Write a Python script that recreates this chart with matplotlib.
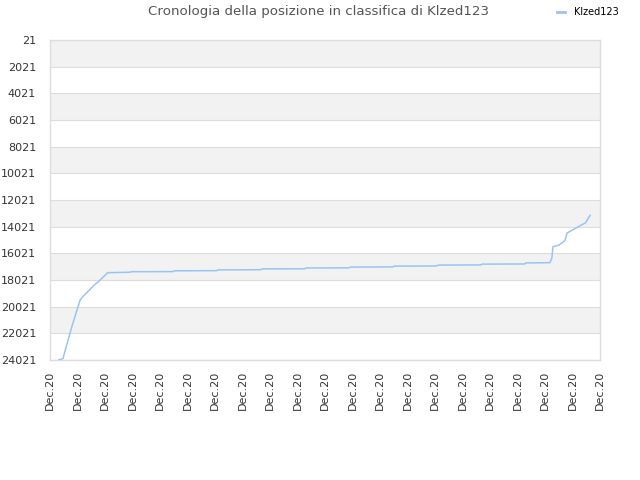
import matplotlib
matplotlib.use("Agg")
import matplotlib.pyplot as plt
from matplotlib.lines import Line2D

# Data (x in tick-interval units, 0..20; y = ranking position)
x_vals = [0.33, 0.47, 0.79, 1.09, 1.17, 1.64, 1.76, 2.10,
          2.91, 2.94, 4.48, 4.52, 6.06, 6.12, 7.66, 7.72,
          9.26, 9.32, 10.86, 10.92, 12.46, 12.52, 14.06, 14.12,
          15.66, 15.72, 17.26, 17.30, 17.85, 18.18, 18.25, 18.29,
          18.51, 18.72, 18.75, 18.80, 19.48, 19.55, 19.64]
y_vals = [24000, 23920, 21550, 19550, 19320, 18340, 18150, 17470,
          17440, 17400, 17390, 17330, 17320, 17260, 17250, 17190,
          17180, 17120, 17110, 17050, 17040, 16980, 16970, 16900,
          16890, 16830, 16820, 16740, 16730, 16720, 16370, 15520,
          15400, 15070, 14920, 14500, 13720, 13470, 13170]

y_ticks = [21, 2021, 4021, 6021, 8021, 10021, 12021, 14021, 16021,
           18021, 20021, 22021, 24021]
x_ticks = list(range(21))
x_labels = ["Dec.20"] * 21
series_name = "Klzed123"
title = "Cronologia della posizione in classifica di Klzed123"

fig = plt.figure(figsize=(6.4, 4.8), dpi=100)
ax = fig.add_axes([50/640, 120/480, 550/640, 320/480])

line_color = "#99c4f2"
grid_color = "#dddddd"

ax.set_xlim(0, 20)
ax.set_ylim(24021, 21)

# alternating bands
for i in range(len(y_ticks) - 1):
    if i % 2 == 0:
        ax.axhspan(y_ticks[i], y_ticks[i+1], color="#f2f2f2", zorder=0, lw=0)

ax.plot(x_vals, y_vals, color=line_color, lw=1.1, zorder=3)

ax.set_yticks(y_ticks)
ax.set_yticklabels([str(t) for t in y_ticks])
ax.set_xticks(x_ticks)
ax.set_xticklabels(x_labels, rotation=90)
ax.tick_params(axis="both", length=0, labelsize=8, colors="#333333")
ax.tick_params(axis="x", pad=8)
ax.tick_params(axis="y", pad=10)
ax.yaxis.grid(True, color=grid_color, lw=0.8, zorder=1)
ax.set_axisbelow(True)
for s in ax.spines.values():
    s.set_color(grid_color)
    s.set_linewidth(1.0)

fig.text(318/640, 1 - 12/480, title, ha="center", va="center",
         fontsize=9.6, color="#555555")

handle = Line2D([0], [0], color=line_color, lw=2)
fig.legend([handle], [series_name], loc="center", bbox_to_anchor=(588/640, 1 - 12/480),
           frameon=False, fontsize=7, handlelength=0.8, handletextpad=0.9)

fig.savefig("out.png", dpi=100)
